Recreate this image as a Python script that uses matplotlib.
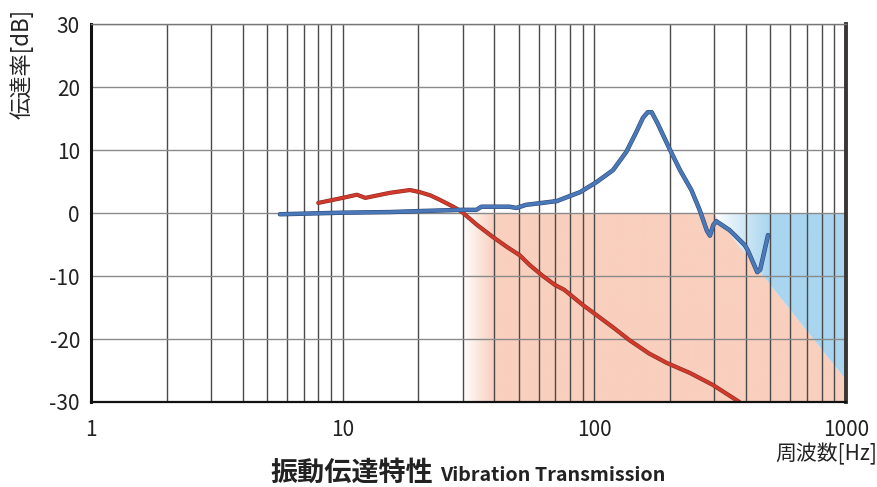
import numpy as np
import matplotlib
matplotlib.use("Agg")
import matplotlib.pyplot as plt
from matplotlib.patches import Polygon
from matplotlib import patheffects as pe

plt.rcParams['font.family'] = ['Noto Sans CJK JP', 'DejaVu Sans']

# Red series
red_freq = [8, 10, 11.4, 12.3, 15.4, 18.5, 20.3, 22.3, 24.3, 27.5, 29.7, 34.2, 39.5, 45, 50.5,
            55.5, 62, 69.6, 76, 90, 102, 120, 138, 165, 194, 240, 296, 377]
red_db = [1.6, 2.4, 2.9, 2.4, 3.2, 3.65, 3.3, 2.8, 2.1, 1.0, 0.2, -1.9, -3.8, -5.4, -6.7,
          -8.3, -9.9, -11.4, -12.2, -14.6, -16.2, -18.3, -20.2, -22.3, -23.8, -25.4, -27.3, -30.0]

# Blue series
blue_freq = [5.63, 10, 15.4, 20, 29.7, 34, 35.6, 46, 49, 53.6, 62, 71, 80, 87.7, 102, 118.6,
             134, 147, 156, 163, 169, 178, 200, 219, 243, 262, 280, 288, 297, 305, 344, 361, 396,
             407, 444, 456, 478, 490]
blue_db = [-0.2, 0.05, 0.15, 0.3, 0.5, 0.5, 1.0, 1.0, 0.8, 1.3, 1.6, 1.9, 2.7, 3.3, 4.9, 6.8,
           9.7, 12.9, 15.1, 16.0, 16.0, 14.3, 10.0, 6.8, 3.65, 0.5, -2.8, -3.6, -1.9, -1.3, -2.7, -3.5,
           -5.1, -5.9, -9.4, -9.0, -5.4, -3.5]

# Shaded regions
salmon_start, salmon_full = 30, 40
diag_start, diag_end_db = 296, -26.5
blue_full = 500

x_ticks = [1, 10, 100, 1000]
y_ticks = [-30, -20, -10, 0, 10, 20, 30]

fig = plt.figure(figsize=(8.78, 4.87), dpi=100)
ax = fig.add_axes([91/878, 1-402/487, (846-91)/878, (402-24)/487])
ax.set_xscale('log')
ax.set_xlim(1, 1000)
ax.set_ylim(-30, 30)

salmon = np.array([249, 207, 190]) / 255
blue = np.array([169, 213, 239]) / 255

nx = 800
xs = np.linspace(0, 3, nx)
f = 10 ** xs

def grad_img(color, f0, f1):
    t = np.clip((np.log10(f) - np.log10(f0)) / (np.log10(f1) - np.log10(f0)), 0, 1)
    img = np.zeros((2, nx, 4))
    img[..., :3] = color
    img[..., 3] = t
    return img

poly_s = Polygon([(salmon_start, 0), (diag_start, 0), (1000, diag_end_db), (1000, -30),
                  (salmon_start, -30)], closed=True, facecolor='none', edgecolor='none')
ax.add_patch(poly_s)
im1 = ax.imshow(grad_img(salmon, salmon_start, salmon_full), extent=[0, 1, 0, 1],
                transform=ax.transAxes, aspect='auto', zorder=0.5, interpolation='bilinear')
im1.set_clip_path(poly_s)

poly_b = Polygon([(diag_start, 0), (1000, 0), (1000, diag_end_db)], closed=True,
                 facecolor='none', edgecolor='none')
ax.add_patch(poly_b)
im2 = ax.imshow(grad_img(blue, diag_start, blue_full), extent=[0, 1, 0, 1],
                transform=ax.transAxes, aspect='auto', zorder=0.5, interpolation='bilinear')
im2.set_clip_path(poly_b)
ax.set_xlim(1, 1000)
ax.set_ylim(-30, 30)

ax.grid(True, which='both', axis='x', color='#4a4a4a', linewidth=1.0, zorder=1)
ax.grid(True, which='major', axis='y', color='#8a8a8a', linewidth=1.0, zorder=1)

ax.plot(red_freq, red_db, color='#D03A2C', linewidth=2.2, zorder=3, solid_capstyle='round',
        solid_joinstyle='round',
        path_effects=[pe.Stroke(linewidth=3.0, foreground='#8a2a20'), pe.Normal()])
ax.plot(blue_freq, blue_db, color='#4A78B8', linewidth=2.4, zorder=3, solid_capstyle='round',
        solid_joinstyle='round',
        path_effects=[pe.Stroke(linewidth=3.2, foreground='#2c4a78'), pe.Normal()])

ax.set_xticks(x_ticks)
ax.set_xticklabels([str(v) for v in x_ticks])
ax.set_yticks(y_ticks)
ax.set_yticklabels([str(v) for v in y_ticks])
ax.tick_params(axis='both', which='both', length=0, labelsize=15, colors='#222222')
ax.tick_params(axis='x', pad=12)
ax.tick_params(axis='y', pad=8)

ax.spines['left'].set_linewidth(2.2)
ax.spines['left'].set_color('#111111')
ax.spines['bottom'].set_linewidth(1.6)
ax.spines['bottom'].set_color('#111111')
ax.spines['right'].set_linewidth(2.8)
ax.spines['right'].set_color('#3a3535')
ax.spines['top'].set_linewidth(1.0)
ax.spines['top'].set_color('#777777')
for s in ax.spines.values():
    s.set_zorder(4)

fig.text(22/878, 1-9/487, '伝達率[dB]', rotation=90, ha='center', va='top', fontsize=16,
         color='#222222')
fig.text(877/878, 1-460/487, '周波数[Hz]', ha='right', va='baseline', fontsize=15,
         color='#222222')
fig.text(270/878, 1-481/487, '振動伝達特性', ha='left', va='baseline', fontsize=19.5,
         fontweight='bold', color='#222222')
fig.text(440/878, 1-481/487, 'Vibration Transmission', ha='left', va='baseline', fontsize=14.2,
         fontweight='bold', color='#222222')

fig.savefig('out.png', dpi=100)
